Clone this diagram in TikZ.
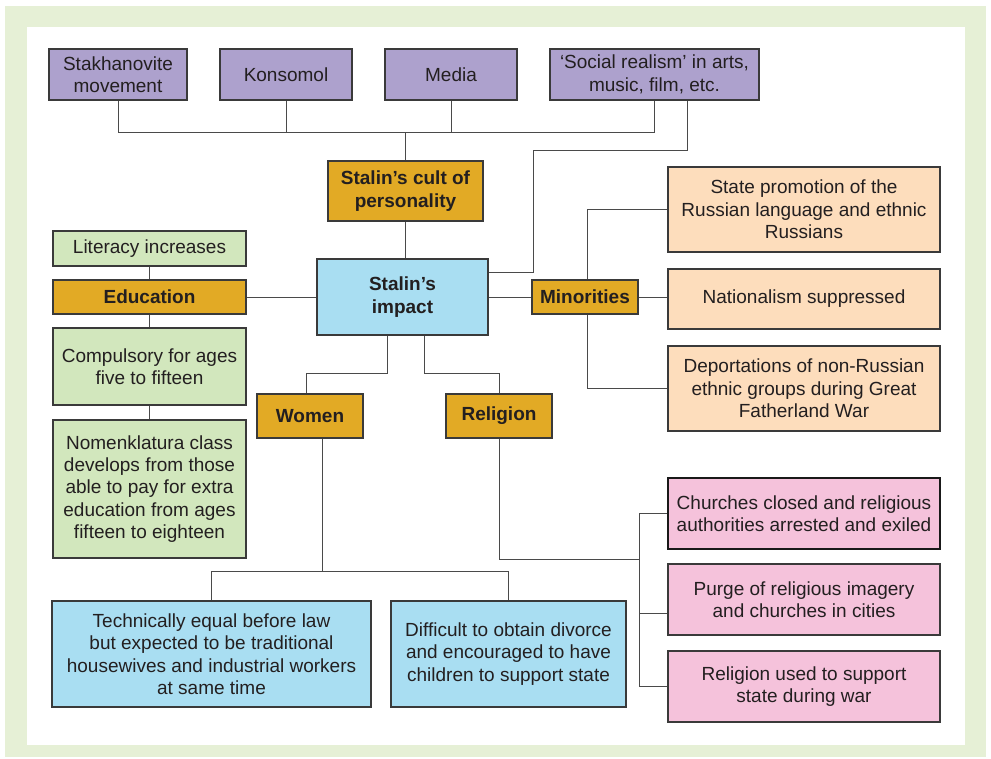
\documentclass[tikz,border=0pt]{standalone}
\usepackage{fontspec}
\setmainfont{Liberation Sans}
\definecolor{outerbg}{HTML}{E6F0D6}
\definecolor{purp}{HTML}{ADA1CD}
\definecolor{gold}{HTML}{E2AA25}
\definecolor{skyb}{HTML}{A9DEF2}
\definecolor{lgreen}{HTML}{D2E7BD}
\definecolor{peach}{HTML}{FDDDBC}
\definecolor{pinkb}{HTML}{F5C2DB}
\definecolor{boxline}{HTML}{3A3A3A}
\definecolor{conn}{HTML}{4A4A4A}
\definecolor{txt}{HTML}{231F20}
\pgfdeclarelayer{bg}\pgfdeclarelayer{lines}\pgfsetlayers{bg,lines,main}
\begin{document}
\begin{tikzpicture}[x=1pt,y=-1pt,
  box/.style={draw=boxline, line width=1.1pt, align=center, inner sep=0pt, text=txt,
    font=\fontsize{19}{22.4}\selectfont},
  hub/.style={box, fill=gold, font=\fontsize{19}{22.4}\selectfont\bfseries},
  link/.style={draw=conn, line width=1pt}]
\useasboundingbox (0,0) rectangle (991,758);
\begin{pgfonlayer}{bg}
  \fill[outerbg] (5,6) rectangle (986,757);
  \fill[white] (27,27) rectangle (965,745);
\end{pgfonlayer}

% top row
\node[box, fill=purp, minimum width=138, minimum height=51] (stak) at (118,74.5) {Stakhanovite\\movement};
\node[box, fill=purp, minimum width=132, minimum height=51] (kons) at (286,74.5) {Konsomol};
\node[box, fill=purp, minimum width=132, minimum height=51] (media) at (451,74.5) {Media};
\node[box, fill=purp, minimum width=209, minimum height=51] (social) at (654.5,74.5) {‘Social realism’ in arts,\\music, film, etc.};

% centre
\node[hub, minimum width=155, minimum height=60] (cult) at (405.5,191) {Stalin’s cult of\\personality};
\node[box, fill=skyb, minimum width=171, minimum height=76, font=\fontsize{19}{22.4}\selectfont\bfseries] (impact) at (402.5,297) {Stalin’s\\impact};

% education
\node[box, fill=lgreen, minimum width=193, minimum height=35] (literacy) at (149.5,248.5) {Literacy increases};
\node[hub, minimum width=193, minimum height=34] (edu) at (149.5,297) {Education};
\node[box, fill=lgreen, minimum width=193, minimum height=77] (comp) at (149.5,366.5) {Compulsory for ages\\five to fifteen};
\node[box, fill=lgreen, minimum width=193, minimum height=138] (nomen) at (149.5,489) {Nomenklatura class\\develops from those\\able to pay for extra\\education from ages\\fifteen to eighteen};

% women / religion
\node[hub, minimum width=106, minimum height=44] (women) at (310,416) {Women};
\node[hub, minimum width=106, minimum height=44] (religion) at (499,416) {Religion};
\node[box, fill=skyb, minimum width=319, minimum height=106] (tech) at (211.5,654) {Technically equal before law\\but expected to be traditional\\housewives and industrial workers\\at same time};
\node[box, fill=skyb, minimum width=235, minimum height=106] (diff) at (508.5,654) {Difficult to obtain divorce\\and encouraged to have\\children to support state};

% minorities
\node[hub, minimum width=106, minimum height=34] (minor) at (585,297) {Minorities};
\node[box, fill=peach, minimum width=272, minimum height=85] (statepro) at (804,209.5) {State promotion of the\\Russian language and ethnic\\Russians};
\node[box, fill=peach, minimum width=272, minimum height=60] (national) at (804,299) {Nationalism suppressed};
\node[box, fill=peach, minimum width=272, minimum height=85] (deport) at (804,388.5) {Deportations of non-Russian\\ethnic groups during Great\\Fatherland War};

% religion boxes
\node[box, fill=pinkb, draw=black!90, line width=1.8pt, minimum width=272, minimum height=71] (churches) at (804,513.5) {Churches closed and religious\\authorities arrested and exiled};
\node[box, fill=pinkb, minimum width=272, minimum height=71] (purge) at (804,599.5) {Purge of religious imagery\\and churches in cities};
\node[box, fill=pinkb, minimum width=272, minimum height=71] (relused) at (804,686.5) {Religion used to support\\state during war};

% helper coordinates
\coordinate (bus) at (0,132);
\coordinate (y150) at (533,150);
\coordinate (y272) at (0,272);
\coordinate (y373) at (0,373);
\coordinate (y571) at (0,571);
\coordinate (y559) at (0,559);
\coordinate (rx) at (639,0);
\coordinate (mx) at (587,0);

\begin{pgfonlayer}{lines}
  % top bus
  \draw[link] (stak.south) |- (bus -| social.south) -- (social.south);
  \draw[link] (kons.south) -- (kons.south |- bus);
  \draw[link] (media.south) -- (media.south |- bus);
  \draw[link] (cult.north) -- (cult.north |- bus);
  \draw[link] (cult.south) -- (cult.south |- impact.north);
  % second line from social realism to impact
  \coordinate (s2) at ([xshift=32.5pt]social.south);
  \draw[link] (s2) |- (y150) |- (impact.east |- y272);
  % education
  \draw[link] (literacy) -- (edu);
  \draw[link] (edu) -- (comp);
  \draw[link] (comp) -- (nomen);
  \draw[link] (edu.east) -- (impact.west);
  % women / religion
  \coordinate (iw) at ([xshift=-15.5pt]impact.south);
  \coordinate (ir) at ([xshift=21.5pt]impact.south);
  \coordinate (wt) at ([xshift=-4pt]women.north);
  \draw[link] (iw) |- (wt |- y373) -- (wt);
  \draw[link] (ir) |- (religion.north |- y373) -- (religion.north);
  \coordinate (wb) at ([xshift=12pt]women.south);
  \draw[link] (wb) -- (wb |- y571);
  \draw[link] (tech.north) -- (tech.north |- y571) -- (diff.north |- y571) -- (diff.north);
  \draw[link] (religion.south) |- (rx |- y559);
  \coordinate (pw) at ([yshift=-13.5pt]purge.west);
  \draw[link] (churches.west) -| (rx |- relused.west) -- (relused.west);
  \draw[link] (pw) -- (rx |- pw);
  % minorities
  \draw[link] (impact.east) -- (minor.west);
  \draw[link] (minor.east) -- (minor.east -| national.west);
  \draw[link] (statepro.west) -| (mx |- deport.west) -- (deport.west);
\end{pgfonlayer}
\end{tikzpicture}
\end{document}
